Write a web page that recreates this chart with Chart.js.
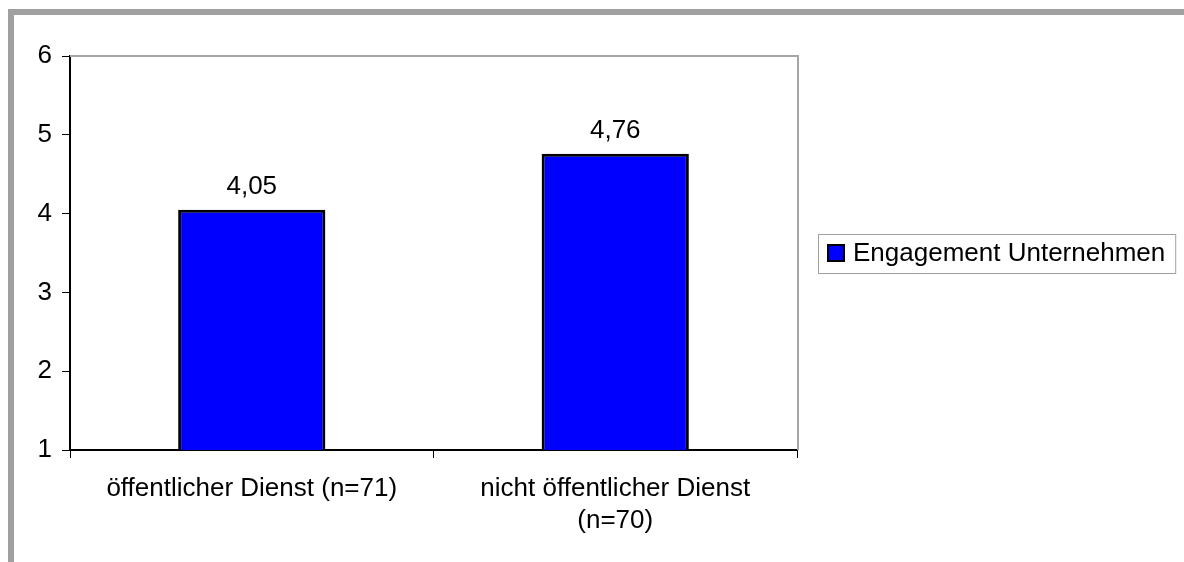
<!DOCTYPE html>
<html>
<head>
<meta charset="utf-8">
<script src="https://cdn.jsdelivr.net/npm/chart.js@4/dist/chart.umd.min.js"></script>
<style>
	html, body { margin: 0; padding: 0; background: #fff; }
	#wrap { position: relative; width: 1184px; height: 562px; }
</style>
</head>
<body>
<div id="wrap"><canvas id="chart"></canvas></div>
<script>
const categories = ['öffentlicher Dienst (n=71)', ['nicht öffentlicher Dienst', '(n=70)']];
const engagement = [4.05, 4.76];
const seriesName = 'Engagement Unternehmen';
const yTicks = [1, 2, 3, 4, 5, 6];

const FONT = "'Liberation Sans', Arial, sans-serif";
const FONT_SIZE = 26;
const GREY = '#a0a0a0';

function formatDe(v)
{
	return v.toFixed(2).replace('.', ',');
}

// grey frame around the whole picture (top + left visible)
const outerFrame = {
	id: 'outerFrame',
	beforeDraw(chart) {
		const ctx = chart.ctx;
		ctx.save();
		ctx.fillStyle = GREY;
		ctx.fillRect(8, 9, chart.width - 8, 6);
		ctx.fillRect(8, 9, 6, chart.height - 9);
		ctx.restore();
	}
};

// grey top and right edge of the plot area
const plotBorder = {
	id: 'plotBorder',
	beforeDatasetsDraw(chart) {
		const a = chart.chartArea;
		const ctx = chart.ctx;
		ctx.save();
		ctx.strokeStyle = '#a6a6a6';
		ctx.lineWidth = 2;
		ctx.beginPath();
		ctx.moveTo(a.left, a.top);
		ctx.lineTo(a.right + 1, a.top);
		ctx.lineTo(a.right + 1, a.bottom);
		ctx.stroke();
		ctx.restore();
	}
};

const valueLabels = {
	id: 'valueLabels',
	afterDatasetsDraw(chart) {
		const ctx = chart.ctx;
		ctx.save();
		ctx.font = FONT_SIZE + 'px ' + FONT;
		ctx.fillStyle = '#000';
		ctx.textAlign = 'center';
		ctx.textBaseline = 'middle';
		chart.data.datasets.forEach((ds, i) => {
			chart.getDatasetMeta(i).data.forEach((bar, j) => {
				ctx.fillText(formatDe(ds.data[j]), bar.x, bar.y - 23);
			});
		});
		ctx.restore();
	}
};

const legendBox = {
	id: 'legendBox',
	afterDraw(chart) {
		const ctx = chart.ctx;
		const a = chart.chartArea;
		const ds = chart.data.datasets[0];
		ctx.save();
		ctx.font = FONT_SIZE + 'px ' + FONT;
		const tw = ctx.measureText(ds.label).width;
		const left = 818;
		const cy = (a.top + a.bottom) / 2;
		const h = 39;
		const w = 35 + tw + 10;
		ctx.strokeStyle = GREY;
		ctx.lineWidth = 1;
		ctx.strokeRect(left + 0.5, Math.round(cy - h / 2) + 0.5, w, h);
		ctx.fillStyle = ds.backgroundColor;
		ctx.fillRect(left + 10, cy - 8, 16, 16);
		ctx.strokeStyle = '#000';
		ctx.lineWidth = 2;
		ctx.strokeRect(left + 10, cy - 8, 16, 16);
		ctx.fillStyle = '#000';
		ctx.textBaseline = 'middle';
		ctx.fillText(ds.label, left + 35, cy + 1);
		ctx.restore();
	}
};

new Chart(document.getElementById('chart'), {
	type: 'bar',
	data: {
		labels: categories,
		datasets: [{
			label: seriesName,
			data: engagement,
			backgroundColor: '#0000ff',
			borderColor: '#000',
			borderWidth: 3,
			borderSkipped: false,
			categoryPercentage: 1,
			barPercentage: 0.405,
		}]
	},
	options: {
		responsive: true,
		maintainAspectRatio: false,
		animation: false,
		layout: {
			padding: { top: 56, right: 387, left: 0, bottom: 0 }
		},
		plugins: {
			legend: { display: false },
			tooltip: { enabled: false },
		},
		scales: {
			x: {
				afterFit(scale) { scale.height = 112; },
				grid: {
					display: true,
					drawOnChartArea: false,
					drawTicks: true,
					tickLength: 8,
					color: '#000',
					lineWidth: 1,
				},
				border: { display: true, color: '#000', width: 2 },
				ticks: {
					color: '#000',
					font: { family: FONT, size: FONT_SIZE, lineHeight: 1.23 },
					padding: 15,
					maxRotation: 0,
					autoSkip: false,
				}
			},
			y: {
				min: yTicks[0],
				max: yTicks[yTicks.length - 1],
				afterFit(scale) { scale.width = 70; },
				afterBuildTicks(scale) { scale.ticks = yTicks.map(v => ({ value: v })); },
				grid: {
					display: true,
					drawOnChartArea: false,
					drawTicks: true,
					tickLength: 8,
					color: '#000',
					lineWidth: 1,
				},
				border: { display: true, color: '#000', width: 2 },
				ticks: {
					color: '#000',
					font: { family: FONT, size: FONT_SIZE },
					padding: 10,
				}
			}
		}
	},
	plugins: [outerFrame, plotBorder, valueLabels, legendBox]
});
</script>
</body>
</html>
